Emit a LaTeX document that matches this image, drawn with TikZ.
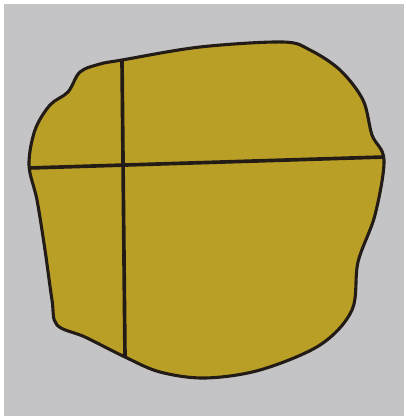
\documentclass[tikz,border=0pt]{standalone}
\usepackage{xcolor}
\usepackage{tikz}
\definecolor{mygray}{RGB}{196,196,199}
\definecolor{myyellow}{RGB}{186,159,38}
\definecolor{mydark}{RGB}{35,28,22}
\tikzset{
  outline/.style={line width=2.2pt, color=mydark, line join=round},
  cut/.style={line width=2.6pt, color=mydark}
}
\begin{document}
\begin{tikzpicture}[x={(0.025cm,0)}, y={(0,-0.025cm)}]
    % Background
    \fill[white] (0,0) rectangle (406,420);
    \fill[mygray] (4,4) rectangle (404,416);
    \useasboundingbox (0,0) rectangle (406,420);

    % Blob
    \draw[outline, fill=myyellow] plot[smooth cycle, tension=0.55] coordinates {
      (122,60) (200,47) (283,42) (310,50) (340,70) (363,100) (372,135)
      (384,160) (375,215) (358,262) (352,310) (320,345) (260,370)
      (205,378) (160,372) (125,357) (85,337) (57,325) (52,300) (45,250)
      (37,200) (29,165) (35,130) (50,105) (68,92) (80,72) (100,64)};

    % Cuts
    \coordinate (hl) at (29,168);
    \coordinate (hr) at (384,157);
    \coordinate (vt) at (122,60);
    \coordinate (vb) at (125,357);
    \draw[cut] (hl) -- (hr);
    \draw[cut] (vt) -- (vb);
\end{tikzpicture}
\end{document}
